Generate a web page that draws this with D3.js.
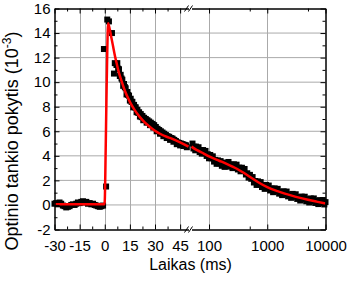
<!DOCTYPE html>
<html>
<head>
<meta charset="utf-8">
<script src="https://cdn.jsdelivr.net/npm/d3@7"></script>
<style>
  body { margin: 0; background: #fff; }
  svg { display: block; font-family: "Liberation Sans", Arial, sans-serif; }
</style>
</head>
<body>
<svg width="350" height="282"></svg>
<script>
// matavimo taskai (laikas ms, vertes 10^-3)
const baseTime = [-30,-29,-28,-27,-26,-25,-24,-23,-22,-21,-20,-19,-18,-17,-16,-15,-14,-13,-12,-11,-10,-9,-8,-7,-6,-5,-4,-3,-2,-1]
const baseVal  = [0.1,0.15,0.05,0.2,0.1,-0.05,-0.1,-0.2,-0.15,-0.1,0.0,0.05,0.0,0.1,0.2,0.15,0.25,0.3,0.2,0.25,0.1,0.15,0.05,0.1,0.0,-0.05,-0.1,-0.15,-0.1,-0.05]

const peakTime = [-0.5, 0.8, 1.5, 2.5, 4.3, 5.5, 6.0]
const peakVal  = [12.7, 1.5, 15.1, 14.95, 14.0, 10.7, 11.55]

const decayTime = [7,8,9,10,11,12,13,14,15,16,17,18,19,20,21,22,23,24,25,26,27,28,29,30,31,32,33,34,35,36,37,38,39,40,41,42,43,44,45,46,47,48,49]
const decayVal  = [11.4,11.1,10.5,10.3,9.7,9.6,9.0,8.95,8.5,8.4,7.95,7.95,7.55,7.5,7.2,7.15,6.9,6.95,6.7,6.75,6.5,6.55,6.3,6.35,6.0,6.05,5.8,5.85,5.6,5.7,5.45,5.5,5.3,5.4,5.15,5.2,4.95,5.0,4.85,4.95,4.8,4.85,4.7]
const decayTime2 = [7.5,8.5,9.5,10.5,11.5,12.5,13.5,14.5,15.5,16.5,17.5,18.5,19.5,20.5,21.5,22.5,23.5,24.5,25.5,26.5,27.5,28.5,29.5,30.5,31.5,32.5,33.5,34.5,35.5,36.5,37.5,38.5,39.5,40.5,41.5,42.5,43.5,44.5,45.5,46.5,47.5,48.5]
const decayVal2  = [11.55,11.05,10.6,10.2,9.85,9.5,9.2,8.9,8.65,8.4,8.15,7.95,7.75,7.55,7.4,7.25,7.1,7.0,6.9,6.8,6.7,6.6,6.5,6.35,6.2,6.1,6.0,5.9,5.8,5.7,5.6,5.55,5.45,5.4,5.3,5.2,5.1,5.05,5.0,4.95,4.9,4.85]

const tailTime = [52,54,56,58,60,63,66,69,72,75,79,83,87,91,95,100,105,110,116,122,128,135,142,150,158,166,175,185,195,205,216,228,240,253,267,282,297,313,330,348,367,387,408,430,453,478,504,531,560,590,622,656,692,730,770,812,856,903,952,1000,1060,1120,1190,1260,1340,1420,1510,1600,1700,1800,1910,2030,2150,2280,2420,2570,2730,2900,3080,3270,3470,3680,3900,4140,4400,4670,4960,5260,5590,5930,6300,6680,7090,7530,7990,8480,9000,9550,10000]
const tailVal  = [5.0,4.6,4.75,4.45,4.75,4.5,4.7,4.31,4.47,4.18,4.47,4.21,4.4,3.99,4.13,3.8,4.07,3.8,3.96,3.53,3.67,3.35,3.63,3.38,3.57,3.19,3.37,3.1,3.45,3.25,3.5,3.12,3.29,3.0,3.31,3.07,3.28,2.89,3.04,2.74,3.03,2.77,2.93,2.48,2.58,2.23,2.45,2.13,2.27,1.83,1.95,1.63,1.92,1.66,1.86,1.46,1.61,1.31,1.63,1.4,1.58,1.18,1.34,1.04,1.35,1.11,1.31,0.92,1.08,0.8,1.11,0.87,1.09,0.7,0.86,0.58,0.9,0.66,0.87,0.49,0.65,0.36,0.68,0.45,0.67,0.3,0.47,0.2,0.53,0.3,0.53,0.16,0.34,0.07,0.39,0.17,0.4,0.04,0.23]

// aproksimacija (raudona kreive)
const fitTime = [-30,-0.3,0,0.5,1,1.5,2,3,4,5,6,7,8,10,12,15,18,21,24,27,30,33,36,40,45,50,60,70,80,100,150,200,300,400,500,700,1000,1500,2000,3000,5000,7000,10000]
const fitVal  = [0.05,0.05,0.3,4,8.5,12.5,14.8,14.3,13.6,12.9,12.2,11.6,11.0,10.1,9.3,8.4,7.7,7.15,6.7,6.35,6.05,5.8,5.6,5.4,5.1,4.75,4.5,4.35,4.2,3.95,3.6,3.35,2.95,2.6,2.3,1.85,1.45,1.12,0.92,0.68,0.42,0.27,0.12]

const linTicks = [-30,-15,0,15,30,45]
const linMinor = [-22.5,-7.5,7.5,22.5,37.5]
const logTicks = [100,1000,10000]
const logMinor = [500,5000]
const yTicks = [-2,0,2,4,6,8,10,12,14,16]
const yMinor = [-1,1,3,5,7,9,11,13,15]

const svg = d3.select("svg")
const pLeft = 54.5, pRight = 325.5, pTop = 8.5, pBottom = 229.5
const breakT = 50

const xLin = d3.scaleLinear().domain([-30, breakT]).range([pLeft, 188.5])
const xLog = d3.scaleLog().domain([breakT, 10000]).range([191.5, pRight])
const x = t => t <= breakT ? xLin(t) : xLog(t)
const y = d3.scaleLinear().domain([-2, 16]).range([pBottom, pTop])

// tinklelis
const grid = svg.append("g").attr("stroke", "#aaa").attr("stroke-width", 1)
linTicks.concat(logTicks).forEach(t => {
  const gx = Math.round(x(t)) + 0.5
  if (gx <= pLeft + 1 || gx >= pRight - 1) return
  grid.append("line").attr("x1", gx).attr("x2", gx).attr("y1", pTop).attr("y2", pBottom)
})
yTicks.forEach(v => {
  const gy = y(v)
  if (gy <= pTop + 1 || gy >= pBottom - 1) return
  grid.append("line").attr("x1", pLeft).attr("x2", pRight).attr("y1", gy).attr("y2", gy)
})

// taskai
const pts = []
baseTime.forEach((t, i) => pts.push({t: t, v: baseVal[i]}))
peakTime.forEach((t, i) => pts.push({t: t, v: peakVal[i]}))
decayTime.forEach((t, i) => pts.push({t: t, v: decayVal[i]}))
decayTime2.forEach((t, i) => pts.push({t: t, v: decayVal2[i]}))
tailTime.forEach((t, i) => pts.push({t: t, v: tailVal[i]}))

const s = 6
svg.append("g").selectAll("rect").data(pts).join("rect")
  .attr("x", d => x(d.t) - s / 2)
  .attr("y", d => y(d.v) - s / 2)
  .attr("width", s).attr("height", s)
  .attr("fill", "#000")

// kreive, dviem dalim per truki
const fit = fitTime.map((t, i) => ({t: t, v: fitVal[i]}))
const fitA = fit.filter(d => d.t <= breakT)
const fitB = fit.filter(d => d.t >= breakT)
const lineA = d3.line().x(d => xLin(d.t)).y(d => y(d.v)).curve(d3.curveMonotoneX)
const lineB = d3.line().x(d => xLog(d.t)).y(d => y(d.v)).curve(d3.curveMonotoneX)
svg.append("path").attr("d", lineA(fitA)).attr("fill", "none").attr("stroke", "#f00").attr("stroke-width", 2.5)
svg.append("path").attr("d", lineB(fitB)).attr("fill", "none").attr("stroke", "#f00").attr("stroke-width", 2.5)

// asys
const fmt = d => String(d)
function styleAxis(g) {
  g.selectAll(".domain").attr("stroke", "#000")
  g.selectAll(".tick line").attr("stroke", "#000")
  g.selectAll("text").attr("fill", "#000").attr("font-size", 15)
  g.attr("font-family", null).attr("font-size", null)
}
function xAxes(axisFn, yPos, labels) {
  const g = svg.append("g").attr("transform", `translate(0,${yPos})`)
  g.append("g").call(axisFn(xLin).tickValues(linMinor).tickSize(-3).tickSizeOuter(0).tickFormat("")).call(styleAxis)
  g.append("g").call(axisFn(xLog).tickValues(logMinor).tickSize(-3).tickSizeOuter(0).tickFormat("")).call(styleAxis)
  g.append("g").call(axisFn(xLin).tickValues(linTicks).tickSize(-5).tickSizeOuter(0).tickPadding(11).tickFormat(labels ? fmt : "")).call(styleAxis)
  g.append("g").call(axisFn(xLog).tickValues(logTicks).tickSize(-5).tickSizeOuter(0).tickPadding(11).tickFormat(labels ? fmt : "")).call(styleAxis)
  return g
}
xAxes(d3.axisBottom, pBottom, true)
const topAx = xAxes(d3.axisTop, pTop, false)
topAx.selectAll("text").remove()

function yAxes(axisFn, xPos, labels) {
  const g = svg.append("g").attr("transform", `translate(${xPos},0)`)
  g.append("g").call(axisFn(y).tickValues(yMinor).tickSize(-3).tickSizeOuter(0).tickFormat("")).call(styleAxis)
  g.append("g").call(axisFn(y).tickValues(yTicks).tickSize(-5).tickSizeOuter(0).tickPadding(4).tickFormat(labels ? fmt : "")).call(styleAxis)
  return g
}
yAxes(d3.axisLeft, pLeft, true)
yAxes(d3.axisRight, pRight, false)

// trukio zenklai //
function breakMark(yPos) {
  const g = svg.append("g").attr("stroke", "#000").attr("stroke-width", 1)
  ;[186.5, 190.5].forEach(bx => {
    g.append("line").attr("x1", bx - 2).attr("y1", yPos + 3).attr("x2", bx + 2).attr("y2", yPos - 3)
  })
}
breakMark(pTop)
breakMark(pBottom)

// pavadinimai
svg.append("text").attr("x", 190.5).attr("y", 270).attr("text-anchor", "middle")
  .attr("font-size", 16).text("Laikas (ms)")

const yt = svg.append("text").attr("transform", "translate(18,141) rotate(-90)")
  .attr("text-anchor", "middle").attr("font-size", 18)
yt.append("tspan").text("Optinio tankio pokytis (10")
yt.append("tspan").attr("font-size", 12).attr("dy", -7).text("-3")
yt.append("tspan").attr("dy", 7).text(")")
</script>
</body>
</html>
